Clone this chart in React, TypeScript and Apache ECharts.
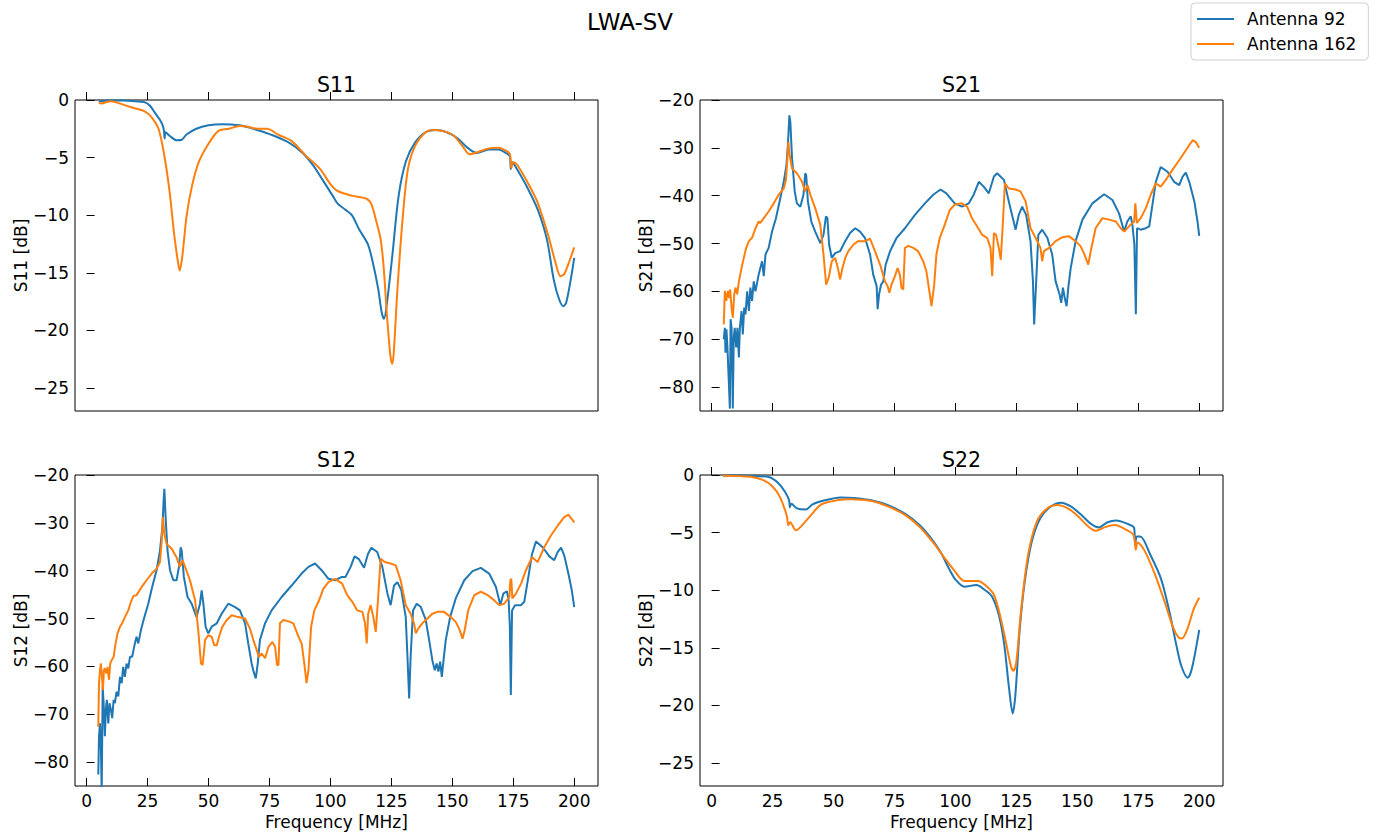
import React, { useEffect, useRef } from "react";
import * as echarts from "echarts";

const FONT = "DejaVu Sans";
const BLUE = "#1f77b4";
const ORANGE = "#ff7f0e";

const xTicks = [0, 25, 50, 75, 100, 125, 150, 175, 200];
const yTicksS11 = [-25, -20, -15, -10, -5, 0];
const yTicksS21 = [-80, -70, -60, -50, -40, -30, -20];

const s11_92 = [[5,-0.1],[10,-0.05],[15,-0.05],[20,-0.1],[22,-0.15],[24,-0.2],[26,-0.5],[28,-1.1],[30,-1.7],[31,-2.1],[31.7,-2.6],[32,-3.35],[32.4,-2.8],[34,-3.1],[37,-3.5],[39,-3.45],[41,-3.0],[45,-2.5],[50,-2.2],[55.5,-2.1],[62.7,-2.2],[70,-2.6],[75.6,-3.0],[83,-3.7],[88.6,-4.6],[93,-5.7],[97,-7.0],[100.9,-8.3],[103,-9.0],[106,-9.5],[108.8,-10.0],[111.7,-11.2],[115.3,-12.5],[117.4,-14.1],[119.6,-16.4],[121,-18.4],[122,-19.0],[123.2,-17.6],[125.4,-13.5],[128,-8.3],[131,-5.3],[134.7,-3.7],[139,-2.8],[143.4,-2.6],[147.7,-2.8],[152,-3.3],[156,-4.1],[160,-4.6],[165,-4.3],[169,-4.3],[172,-4.6],[173.6,-4.9],[174,-6.0],[174.6,-5.4],[176.5,-6.0],[181,-7.7],[185,-9.5],[188.8,-12.1],[191.6,-15.6],[193.8,-17.3],[195.5,-17.9],[196.7,-17.6],[198.8,-15.3],[200,-13.7]];
const s11_162 = [[5,-0.2],[6,-0.3],[10,-0.1],[15,-0.4],[19.5,-0.7],[24,-1.0],[26.7,-1.5],[29.5,-2.5],[31.7,-4.6],[33.9,-7.7],[36,-11.8],[37.5,-14.1],[38.2,-14.8],[39.3,-13.5],[41,-10.1],[43.2,-7.5],[46,-5.4],[50,-3.8],[54,-2.7],[58.4,-2.5],[62.7,-2.25],[65.6,-2.3],[70,-2.5],[74,-2.5],[78.5,-3.0],[84,-3.55],[90,-4.85],[95.8,-6.0],[100,-7.3],[103,-7.9],[108.8,-8.3],[114.6,-8.55],[116.7,-9.0],[118.9,-10.6],[120.6,-12.1],[121.8,-14.4],[123.2,-18.7],[124.6,-22.2],[125.4,-22.9],[126,-21.9],[127.5,-16.4],[129.7,-10.1],[131.8,-6.0],[134.7,-4.0],[139,-2.8],[142,-2.6],[146.3,-2.7],[150.6,-3.1],[154.5,-4.1],[157,-4.7],[160,-4.55],[165,-4.2],[169,-4.15],[172,-4.4],[173.6,-4.7],[174.2,-5.9],[175,-5.4],[176.5,-5.6],[181,-7.2],[185,-8.9],[189.4,-11.8],[192.3,-14.1],[194.4,-15.3],[195.9,-15.1],[198,-14.0],[200,-12.8]];

const s21_92 = [[5.0,-70],[5.45,-67.6],[5.7,-72.8],[6.1,-67.9],[6.5,-71.7],[7.1,-79.3],[7.5,-84.5],[7.8,-65.8],[8.2,-67.6],[8.7,-84.5],[9.1,-69.6],[9.5,-67.6],[10.1,-71.7],[10.6,-67.6],[11.2,-73.8],[11.6,-67.6],[12.3,-64.1],[12.8,-69],[13.4,-63.4],[13.9,-64.8],[14.6,-60],[15.3,-64.1],[15.9,-59.2],[16.6,-62],[17.3,-57.9],[18,-60],[19.3,-56.5],[20.7,-53.7],[21.4,-56.8],[22.1,-52.3],[23.4,-50.9],[24.8,-47.5],[26.4,-44.7],[28.2,-40.5],[29.6,-37.1],[30.7,-33.6],[31.3,-29.4],[31.9,-23.2],[32.3,-24.6],[33,-32.2],[34.1,-39.1],[35,-41.6],[36.4,-42.3],[37.7,-39.8],[38.4,-35.3],[38.8,-35.7],[39.5,-41.2],[40.9,-45.4],[42.5,-47.5],[44.6,-49.9],[45.9,-48.2],[46.9,-44.3],[47.5,-44.7],[48.2,-50.2],[49.3,-53],[50.7,-52],[52.7,-51.6],[54.8,-49.5],[56.8,-47.8],[58.9,-46.8],[60.9,-47.5],[62.9,-48.8],[65,-52.3],[66.3,-56.5],[67.7,-58.9],[68.1,-63.7],[68.7,-60.6],[69.5,-58.6],[70.4,-57.9],[71.4,-54.4],[73.2,-51.6],[75.9,-48.8],[79.3,-46.8],[83.4,-44],[87.5,-41.6],[90.9,-39.8],[93.9,-38.7],[96.3,-39.5],[99.7,-41.6],[102.7,-42.3],[105.5,-41.6],[107.5,-39.8],[109.6,-37.1],[111.6,-38.1],[113.7,-39.5],[115.8,-36],[117.1,-35.3],[119.9,-36.7],[121.9,-41.2],[124.7,-47.1],[126,-44],[127.4,-42.3],[129,-44],[130.8,-49.5],[131.8,-57.9],[132.3,-66.9],[133.2,-57.2],[134,-48.2],[135.6,-47.1],[137.7,-48.8],[139.7,-52.3],[141.1,-57.9],[142.7,-60.6],[143.4,-62.4],[144.1,-59.2],[144.8,-61.3],[145.6,-63.1],[146.3,-59.2],[147.3,-55.1],[149.3,-49.5],[152.1,-45],[156.2,-41.6],[161,-39.7],[164.4,-40.9],[167.1,-43.7],[169.2,-47.5],[170.5,-45.4],[171.9,-44.3],[172.6,-46.1],[173.4,-50.2],[174,-64.8],[174.5,-46.8],[176,-47.1],[178.1,-46.8],[179.5,-46.4],[180.8,-41.9],[182.2,-37.1],[184.2,-34],[187,-35],[189.7,-37.1],[191.8,-37.8],[193.2,-36],[194.5,-35.2],[195.9,-37.1],[198,-41.2],[199.3,-45.4],[200,-48.4]];
const s21_162 = [[5.0,-66.9],[5.45,-59.9],[6,-62],[6.4,-60.6],[6.8,-59.9],[7.2,-61.4],[7.6,-59.6],[8.2,-63.4],[8.7,-65.5],[9.3,-60.6],[9.8,-59.2],[10.5,-60.6],[11.2,-57.9],[12.3,-55.1],[13.2,-53],[14.2,-50.9],[15.3,-49.5],[16.6,-48.8],[18,-46.8],[19.3,-45.4],[20,-45.7],[21.4,-44.7],[23.4,-43.3],[25.5,-41.6],[27.5,-39.8],[29.6,-38.5],[30.5,-36.7],[31.1,-32.2],[31.5,-28.8],[32,-31.5],[33,-34.3],[35,-35.3],[37.1,-37.1],[38.4,-39.1],[39.4,-37.8],[40.5,-39.8],[42.5,-42.6],[44.6,-46.1],[45.9,-52.3],[47,-58.6],[48,-57.2],[49.3,-53.7],[50.7,-53],[51.8,-55.1],[52.7,-57.5],[53.7,-55.1],[54.8,-53],[56.1,-51.6],[58.2,-50.2],[60.2,-49.5],[62.9,-49.5],[65,-49],[67,-51.6],[69.1,-54.4],[71.1,-57.9],[72.2,-58.9],[72.9,-60.3],[73.8,-58.6],[75.2,-56.8],[76.3,-55.1],[77.2,-56.5],[77.9,-59.2],[78.6,-59.6],[79.3,-50.9],[80.7,-50.5],[82.7,-50.9],[84.7,-51.6],[86.8,-53.7],[88.1,-55.8],[89.5,-60.6],[90.2,-63.1],[91.3,-58.6],[92.2,-52.3],[93.6,-48.8],[95.6,-46.1],[97.7,-43],[99.7,-41.9],[102.6,-41.6],[104.8,-42.3],[106.8,-44.7],[108.9,-46.4],[111,-48.2],[113,-48.8],[114.4,-50.9],[115.1,-56.8],[115.8,-47.8],[116.7,-48.2],[117.8,-50.9],[118.6,-53.4],[119.5,-45.4],[120.3,-37.4],[121.9,-38.5],[124.7,-38.7],[126.7,-39.1],[128.8,-41.2],[130.8,-46.8],[132.9,-48.8],[134.9,-50.9],[135.6,-53.7],[136.3,-51.6],[138.4,-50.9],[141.1,-49.5],[143.8,-48.7],[146.6,-48.5],[149.3,-49.5],[151.4,-50.6],[152.7,-52],[154.5,-54.4],[155.5,-51.6],[157.5,-46.8],[160.3,-44.7],[163,-45],[165.8,-45.4],[167.8,-46.8],[169.2,-47.5],[171.2,-46.4],[173.3,-45.4],[173.8,-41.6],[174.4,-45.7],[176,-44.7],[178.1,-42.6],[180.1,-39.8],[182.2,-37.4],[184.2,-38.1],[186.3,-36.7],[189,-34.6],[191.8,-32.6],[194.5,-30.5],[197.3,-28.4],[198.6,-28.8],[200,-30]];

const s12_92 = [[4.8,-82.6],[5.1,-74.6],[5.5,-71.9],[5.9,-77.4],[6.2,-86.5],[6.6,-64.2],[7,-67.7],[7.5,-74.6],[7.9,-69.1],[8.3,-67],[8.9,-71.9],[9.4,-67.7],[10,-69.1],[10.5,-70.8],[11.1,-67],[11.6,-67.7],[12.3,-65.3],[13,-66.3],[13.7,-62.2],[14.4,-63.5],[15,-60.1],[15.7,-62.2],[16.4,-59.4],[17.1,-60.4],[17.8,-58],[18.7,-58],[19.8,-55.2],[20.5,-53.8],[21.2,-55.2],[22.3,-52.4],[23.7,-49.7],[25.3,-46.9],[26.9,-43.4],[28.7,-39.9],[30.1,-35.8],[31.1,-30.9],[31.6,-25.3],[31.9,-22.9],[32.4,-28.8],[33.2,-35.8],[34.2,-39.9],[35.6,-42],[36.9,-42],[37.9,-39.2],[38.6,-35.1],[39,-35.8],[39.9,-41.3],[41.4,-45.5],[43.1,-46.9],[45.1,-49.7],[46.5,-46.9],[47.2,-44.1],[47.9,-46.9],[48.8,-51.7],[49.9,-53.1],[51.3,-51.7],[53.4,-51],[55.4,-49],[58.1,-46.9],[60.9,-47.6],[62.9,-48.3],[65,-51],[66.3,-55.2],[67.7,-59.4],[68.5,-61.1],[69.4,-62.5],[70.2,-59.4],[71.1,-54.5],[73.2,-51],[75.9,-48.3],[80,-45.5],[84.1,-43.1],[88.2,-40.6],[91,-39.2],[93.7,-38.5],[96.4,-39.9],[99.2,-41.7],[101.9,-42],[104.7,-41.3],[106.2,-41.3],[108.3,-39.2],[109.9,-37],[111.7,-37.6],[113.8,-39.4],[115.4,-36.5],[116.8,-35.2],[119.2,-36.1],[121.3,-39.2],[123.4,-44.8],[124.7,-47.2],[126.1,-43.1],[127.5,-42.4],[129.1,-44.1],[130.9,-49.7],[131.6,-58],[132.3,-66.7],[132.9,-58],[133.9,-48.3],[135.4,-46.9],[137.1,-47.6],[139.1,-50.3],[140.5,-54.5],[141.8,-58.7],[142.8,-60.8],[143.6,-59.4],[144.3,-61.1],[145,-59],[145.7,-62.2],[146.4,-58.7],[147.3,-54.5],[149.1,-49.7],[151.4,-45.8],[154.9,-42],[158.3,-40.1],[161.7,-39.4],[165.1,-40.6],[167.9,-43.4],[169.7,-47.2],[170.9,-44.8],[172.4,-44.3],[173.1,-46.2],[173.6,-51.7],[174,-66],[174.5,-48.3],[175.7,-47.2],[178.2,-47.2],[179.5,-46.5],[181.2,-41.3],[182.7,-36.5],[184.3,-33.9],[187.1,-35.1],[189.8,-37],[191.8,-37.8],[193.2,-36.1],[194.6,-35.2],[195.9,-36.8],[197.6,-40.6],[199,-44.1],[200,-47.6]];
const s12_162 = [[4.8,-72.6],[5.1,-63.5],[5.5,-60.8],[5.9,-59.4],[6.3,-62.2],[6.7,-64.9],[7.1,-60.8],[7.5,-60.4],[8.1,-61.5],[8.6,-60.1],[9.2,-62.8],[9.7,-59.4],[10.3,-58.7],[11.1,-58],[11.9,-55.2],[12.7,-53.1],[13.7,-51.7],[14.6,-51],[15.7,-49.7],[17.1,-48.3],[18.2,-46.5],[19.2,-45.3],[20.5,-45.1],[22.6,-43.4],[24.6,-42],[26.7,-40.6],[28.7,-39.6],[30.1,-38.2],[30.8,-34],[31.3,-28.8],[31.9,-32.3],[32.8,-34.4],[34.9,-35.4],[36.9,-37.2],[38.3,-39.2],[39.3,-37.8],[40.4,-39.2],[42.4,-42],[44.5,-46.2],[45.8,-52.4],[46.9,-59.4],[47.6,-59.7],[48.6,-54.5],[49.9,-53.5],[51.3,-53.8],[52.4,-55.6],[53.4,-55.6],[54.3,-53.8],[55.7,-51.7],[57.5,-50.3],[59.5,-49.3],[62.2,-49.7],[65,-50],[67,-52.1],[68.4,-54.5],[69.8,-56.6],[70.7,-58],[71.8,-57.3],[73.2,-58.3],[74.6,-55.9],[76.2,-54.9],[77.3,-55.9],[78.1,-59.7],[78.7,-59.7],[79.3,-51],[80.7,-50.3],[82.8,-50.6],[84.8,-51],[86.9,-53.8],[88.2,-55.2],[89.3,-59.4],[90.2,-63.5],[91,-60.8],[92.1,-51.7],[93.4,-48.3],[95.1,-46.5],[97.1,-43.8],[99.2,-42.4],[101.9,-41.7],[104.8,-42.7],[106.9,-45.1],[109,-46.5],[111,-48.3],[113.1,-48.6],[114.2,-51],[114.9,-55.2],[115.5,-49],[116.5,-47.2],[117.6,-49.7],[118.6,-52.8],[119.5,-46.2],[120.6,-37.5],[122.3,-38.2],[124.7,-38.5],[126.8,-38.9],[128.8,-42],[130.9,-47.2],[132.9,-49],[134.3,-51],[135,-53.1],[136,-52.1],[137.7,-51],[139.8,-50],[141.8,-49],[143.9,-48.6],[146.6,-48.6],[149.4,-49.7],[151.4,-50.7],[152.8,-52.1],[154.2,-54.2],[155.1,-52.4],[156.5,-48.3],[159,-45.1],[161.7,-44.4],[164.5,-45.1],[167.2,-46.2],[169.2,-47.2],[171.3,-46.9],[173.4,-45.5],[173.8,-42],[174.2,-41.7],[174.6,-45.8],[176.1,-44.8],[178.2,-42.7],[180.2,-39.9],[182.7,-37.2],[185,-38.2],[187.7,-35.1],[190.5,-32.6],[193.2,-30.6],[195.9,-28.8],[197.6,-28.3],[199,-29.2],[200,-29.9]];

const s22_92 = [[4.7,-0.06],[10,-0.05],[18.8,-0.1],[23.8,-0.2],[27.3,-0.7],[30.1,-1.45],[31.8,-2.2],[32.1,-2.8],[32.7,-2.5],[35,-2.9],[38.6,-3.0],[41.4,-2.55],[46.4,-2.2],[52.8,-1.95],[58.4,-2.0],[65.5,-2.2],[72.6,-2.65],[79.6,-3.4],[85.3,-4.35],[89.5,-5.35],[93.8,-6.65],[97.3,-8.1],[100.1,-9.1],[103.7,-9.7],[108.6,-9.55],[112.2,-10.0],[115,-10.55],[117.8,-12.15],[119.9,-14.5],[122,-18.5],[123.5,-20.7],[124.6,-19.1],[126.3,-13.6],[128.4,-9.3],[131.3,-5.8],[134.8,-3.75],[139,-2.75],[143.3,-2.4],[147.5,-2.75],[151.8,-3.5],[155.3,-4.2],[158.8,-4.55],[162.4,-4.1],[165.9,-3.95],[170.1,-4.2],[173.3,-4.6],[173.7,-6.1],[174.4,-5.35],[175.8,-5.35],[180,-6.95],[184.3,-9.0],[187.8,-11.9],[190.6,-14.75],[192.7,-16.6],[195.3,-17.6],[197,-16.8],[200,-13.45]];
const s22_162 = [[4.7,-0.06],[16,-0.15],[21,-0.43],[25,-1.0],[28,-1.9],[30.8,-3.5],[31.5,-4.35],[32.2,-4.1],[34.6,-4.8],[37.2,-4.35],[40.7,-3.5],[45,-2.55],[51.3,-2.2],[57,-2.1],[65.5,-2.25],[72.6,-2.75],[79.6,-3.5],[85.3,-4.5],[91,-5.9],[95.2,-7.1],[99.4,-8.25],[103.7,-9.2],[109.3,-9.2],[112.2,-9.55],[115.8,-10.4],[118.6,-12.45],[120.7,-14.5],[122.8,-16.6],[123.8,-17.0],[125,-16.2],[127,-11.6],[129.8,-6.95],[133.4,-4.05],[137.6,-2.9],[141.9,-2.6],[146.1,-2.9],[150.4,-3.6],[154.6,-4.5],[157.5,-4.85],[161.7,-4.5],[165.3,-4.35],[169.5,-4.7],[173,-5.2],[174,-6.5],[174.7,-5.85],[177.4,-6.5],[181.6,-8.5],[185.8,-11.0],[189.4,-13.3],[191.5,-14.1],[192.9,-14.2],[195,-13.45],[197.8,-11.6],[200,-10.65]];

const panels = [
  { title: "S11", ylabel: "S11 [dB]", ymin: -27, ymax: 0, yticks: yTicksS11, a: s11_92, b: s11_162, left: 75, top: 100, smooth: 0.3, bottom: false },
  { title: "S21", ylabel: "S21 [dB]", ymin: -85, ymax: -20, yticks: yTicksS21, a: s21_92, b: s21_162, left: 700, top: 100, smooth: false, bottom: false },
  { title: "S12", ylabel: "S12 [dB]", ymin: -85, ymax: -20, yticks: yTicksS21, a: s12_92, b: s12_162, left: 75, top: 475, smooth: false, bottom: true },
  { title: "S22", ylabel: "S22 [dB]", ymin: -27, ymax: 0, yticks: yTicksS11, a: s22_92, b: s22_162, left: 700, top: 475, smooth: 0.3, bottom: true },
];

const W = 523;
const H = 311;
const FS = 17;
const fmt = (v: number) => String(v).replace("-", "\u2212");

export default function App() {
  const ref = useRef<HTMLDivElement>(null);
  useEffect(() => {
    if (!ref.current) return;
    const chart = echarts.init(ref.current, undefined, { renderer: "svg" });
    const grid: any[] = [];
    const xAxis: any[] = [];
    const yAxis: any[] = [];
    const series: any[] = [];
    const graphic: any[] = [
      { type: "text", x: 630, y: 22, style: { text: "LWA-SV", fill: "#000", font: `23px '${FONT}'`, textAlign: "center", textVerticalAlign: "middle" } },
    ];
    panels.forEach((p, i) => {
      grid.push({ left: p.left, top: p.top, width: W, height: H, show: true, borderColor: "#000", borderWidth: 1, backgroundColor: "transparent" });
      xAxis.push({
        type: "value", gridIndex: i, min: -4.75, max: 209.75,
        splitLine: { show: false },
        axisLine: { show: false },
        axisTick: { show: true, inside: true, length: 8, customValues: xTicks, lineStyle: { color: "#000", width: 1 } },
        axisLabel: { show: p.bottom, customValues: xTicks, color: "#000", fontSize: FS, fontFamily: FONT, margin: 6, formatter: fmt },
        name: p.bottom ? "Frequency [MHz]" : "",
        nameLocation: "middle", nameGap: 27,
        nameTextStyle: { color: "#000", fontSize: FS, fontFamily: FONT },
      });
      yAxis.push({
        type: "value", gridIndex: i, min: p.ymin, max: p.ymax,
        splitLine: { show: false },
        axisLine: { show: false },
        axisTick: { show: true, inside: true, length: 8, customValues: p.yticks, lineStyle: { color: "#000", width: 1 } },
        axisLabel: { customValues: p.yticks, color: "#000", fontSize: FS, fontFamily: FONT, margin: 6, formatter: fmt },
        name: p.ylabel, nameLocation: "middle", nameRotate: 90, nameGap: 46,
        nameTextStyle: { color: "#000", fontSize: FS, fontFamily: FONT },
      });
      const common = { type: "line", xAxisIndex: i, yAxisIndex: i, symbol: "none", showSymbol: false, smooth: p.smooth, clip: true };
      series.push({ ...common, name: "Antenna 92", data: p.a, itemStyle: { color: BLUE }, lineStyle: { width: 2, color: BLUE } });
      series.push({ ...common, name: "Antenna 162", data: p.b, itemStyle: { color: ORANGE }, lineStyle: { width: 2, color: ORANGE } });
      graphic.push({ type: "text", x: p.left + W / 2, y: p.top - 15, style: { text: p.title, fill: "#000", font: `20.5px '${FONT}'`, textAlign: "center", textVerticalAlign: "middle" } });
    });
    chart.setOption({
      animation: false,
      backgroundColor: "#fff",
      textStyle: { fontFamily: FONT },
      grid, xAxis, yAxis, series, graphic,
      legend: {
        left: 1191, top: 3, orient: "vertical",
        data: [
          { name: "Antenna 92", icon: "rect" },
          { name: "Antenna 162", icon: "rect" },
        ],
        itemWidth: 37, itemHeight: 2, itemGap: 7,
        padding: [7, 12, 7, 6],
        borderColor: "#d0d0d0", borderWidth: 1, borderRadius: 4, backgroundColor: "#fff",
        textStyle: { color: "#000", fontSize: FS, fontFamily: FONT, padding: [0, 0, 0, 8], lineHeight: 18 },
      },
    });
    return () => chart.dispose();
  }, []);
  return <div ref={ref} style={{ position: "fixed", left: 0, top: 0, width: 1375, height: 834 }} />;
}
